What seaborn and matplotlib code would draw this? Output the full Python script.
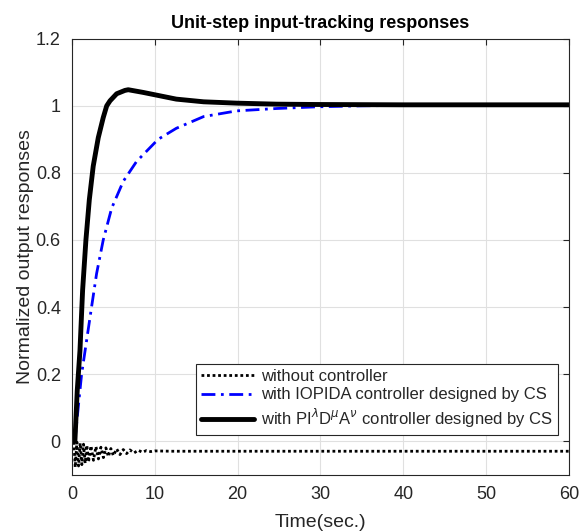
import numpy as np
import pandas as pd
import matplotlib
matplotlib.use("Agg")
import matplotlib.pyplot as plt
import seaborn as sns

# ---- data ----
t_pid = [0.0, 0.36, 0.64, 0.97, 1.29, 1.69, 2.1, 2.57, 3.18, 3.78, 4.2, 4.6, 5.4, 6.4, 6.8,
         8.6, 10.2, 12.6, 15.9, 19.9, 24.7, 29.5, 40.0, 50.0, 60.0]
y_pid = [0.0, 0.0, 0.15, 0.27, 0.45, 0.60, 0.72, 0.82, 0.905, 0.965, 1.0, 1.015, 1.036, 1.046, 1.048,
         1.04, 1.032, 1.02, 1.012, 1.008, 1.005, 1.004, 1.003, 1.003, 1.003]

t_iopida = [0.0, 0.36, 0.76, 1.17, 1.77, 2.37, 2.98, 3.78, 4.8, 6.2, 7.8, 10.4, 12.6, 15.9,
            19.9, 24.7, 29.5, 35.0, 45.0, 60.0]
y_iopida = [0.0, 0.0, 0.10, 0.20, 0.30, 0.40, 0.50, 0.60, 0.695, 0.775, 0.834, 0.9, 0.933, 0.968,
            0.985, 0.992, 0.997, 1.0, 1.003, 1.003]

t_open = [0.0, 0.2, 0.4, 0.6, 0.8, 1.0, 1.2, 1.4, 1.6, 1.8, 2.0, 2.3, 2.6, 2.9, 3.2, 3.5,
          3.8, 4.1, 4.4, 4.7, 5.0, 5.4, 5.8, 6.2, 6.6, 7.0, 7.5, 8.0, 8.5, 9.0, 9.5, 10.0,
          12.0, 60.0]
y_open = [0.0, 0.015, -0.078, -0.003, -0.074, -0.006, -0.07, -0.009, -0.066, -0.012, -0.062,
          -0.014, -0.057, -0.016, -0.053, -0.018, -0.049, -0.02, -0.046, -0.022, -0.043,
          -0.023, -0.04, -0.025, -0.037, -0.026, -0.035, -0.027, -0.033, -0.028, -0.031,
          -0.029, -0.030, -0.030]

labels = ["without controller",
          "with IOPIDA controller designed by CS",
          r"with PI$^{\lambda}$D$^{\mu}$A$^{\nu}$ controller designed by CS"]
x_ticks = [0, 10, 20, 30, 40, 50, 60]
y_ticks = [0, 0.2, 0.4, 0.6, 0.8, 1.0, 1.2]
y_tick_labels = ["0", "0.2", "0.4", "0.6", "0.8", "1", "1.2"]

sns.set_style("white")
plt.rcParams["font.family"] = ["Liberation Sans", "DejaVu Sans"]
plt.rcParams["mathtext.fontset"] = "dejavusans"

fig = plt.figure(figsize=(5.8, 5.31), dpi=100)
ax = fig.add_axes([0.124, 0.106, 0.857, 0.821])

df_open = pd.DataFrame({"t": t_open, "y": y_open})
df_iop = pd.DataFrame({"t": t_iopida, "y": y_iopida})
df_pid = pd.DataFrame({"t": t_pid, "y": y_pid})

sns.lineplot(data=df_open, x="t", y="y", ax=ax, color="black", linewidth=2,
             linestyle=(0, (1, 1)), label=labels[0], estimator=None)
sns.lineplot(data=df_iop, x="t", y="y", ax=ax, color="#0000ff", linewidth=2,
             linestyle=(0, (5, 2, 1, 2)), label=labels[1], estimator=None)
sns.lineplot(data=df_pid, x="t", y="y", ax=ax, color="black", linewidth=3.5,
             linestyle="-", label=labels[2], estimator=None)

ax.set_xlim(0, 60)
ax.set_ylim(-0.1, 1.2)
ax.set_xticks(x_ticks)
ax.set_yticks(y_ticks)
ax.set_yticklabels(y_tick_labels)
ax.grid(True, color="#e0e0e0", linewidth=0.8)
ax.set_axisbelow(True)
for s in ax.spines.values():
    s.set_color("#262626")
    s.set_linewidth(0.8)
ax.tick_params(direction="in", length=4, width=0.8, top=True, right=True,
               labelsize=13, colors="#262626", pad=8)
for lbl in ax.get_xticklabels() + ax.get_yticklabels():
    lbl.set_color("#262626")

ax.set_xlabel("Time(sec.)", fontsize=14, color="#262626", labelpad=8)
ax.set_ylabel("Normalized output responses", fontsize=14, color="#262626", labelpad=1)
ax.set_title("Unit-step input-tracking responses", fontsize=13, fontweight="bold",
             color="black", pad=8)

leg = ax.legend(loc="lower right", bbox_to_anchor=(0.977, 0.092), fontsize=12,
                frameon=True, fancybox=False, edgecolor="#262626", framealpha=1,
                handlelength=3.2, handletextpad=0.4, borderpad=0.3, labelspacing=0.2,
                borderaxespad=0.0)
leg.get_frame().set_linewidth(0.8)

fig.savefig("out.png", dpi=100)
